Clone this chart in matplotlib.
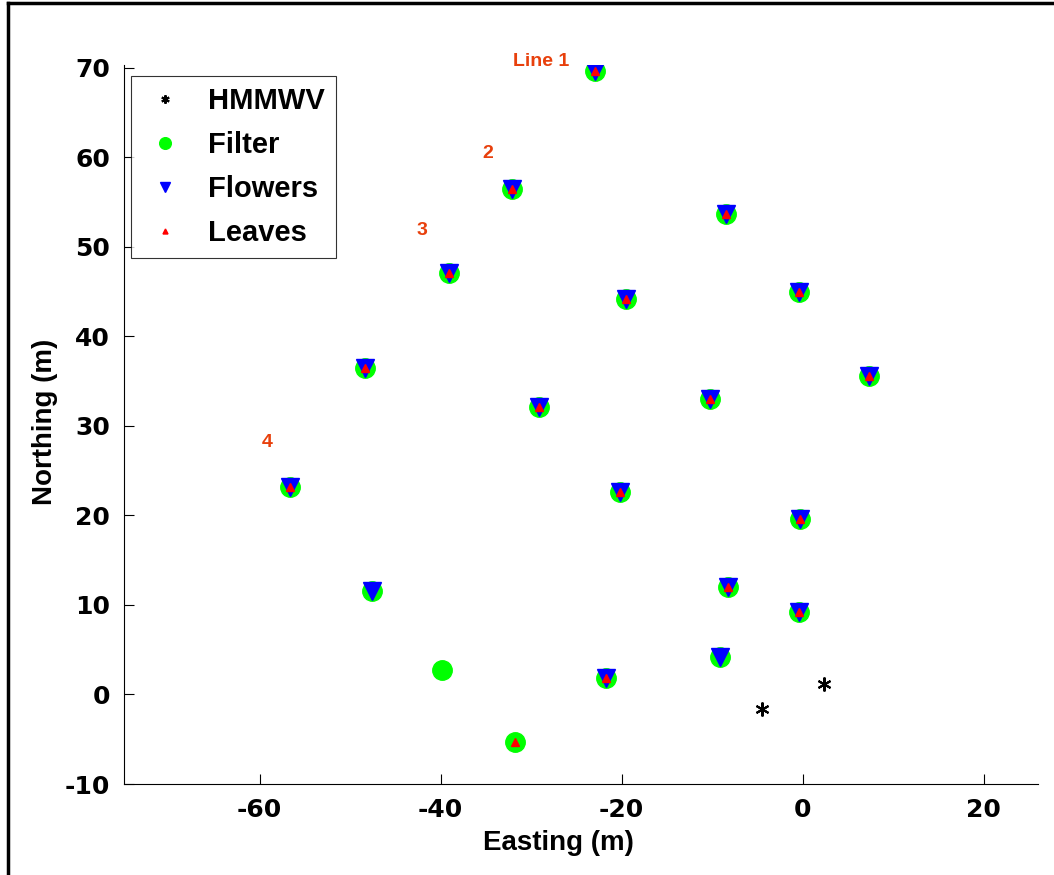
import numpy as np
import matplotlib
matplotlib.use("Agg")
import matplotlib.pyplot as plt
from matplotlib.lines import Line2D

plt.rcParams['font.family'] = ['Liberation Sans', 'DejaVu Sans']
plt.rcParams['axes.unicode_minus'] = False

# sample positions (m)
filter_e = [-22.9, -32.1, -8.5, -39.1, -19.5, -0.4, -48.4, -29.1, -10.2, 7.3,
            -56.7, -20.2, -0.3, -47.6, -8.3, -0.4, -9.1, -39.9, -21.7, -31.8]
filter_n = [69.6, 56.4, 53.7, 47.1, 44.2, 44.9, 36.5, 32.1, 33.0, 35.6,
            23.2, 22.6, 19.6, 11.6, 12.0, 9.2, 4.2, 2.7, 1.8, -5.3]

flowers_e = [-22.9, -32.1, -8.5, -39.1, -19.5, -0.4, -48.4, -29.1, -10.2, 7.3,
             -56.7, -20.2, -0.3, -47.6, -8.3, -0.4, -9.1, -21.7]
flowers_n = [69.6, 56.4, 53.7, 47.1, 44.2, 44.9, 36.5, 32.1, 33.0, 35.6,
             23.2, 22.6, 19.6, 11.6, 12.0, 9.2, 4.2, 1.8]

leaves_e = [-22.9, -32.1, -8.5, -39.1, -19.5, -0.4, -48.4, -29.1, -10.2, 7.3,
            -56.7, -20.2, -0.3, -8.3, -0.4, -21.7, -31.8]
leaves_n = [69.6, 56.4, 53.7, 47.1, 44.2, 44.9, 36.5, 32.1, 33.0, 35.6,
            23.2, 22.6, 19.6, 12.0, 9.2, 1.8, -5.3]

hmmwv_e = [-4.5, 2.4]
hmmwv_n = [-1.6, 1.2]

line_labels = ['Line 1', '2', '3', '4']
line_label_e = [-28.9, -34.8, -42.1, -59.2]
line_label_n = [70.7, 60.4, 51.8, 28.1]

fig = plt.figure(figsize=(10.54, 8.75), dpi=100)
ax = fig.add_axes([0.1176, 0.104, 0.8672, 0.8217])

asterisk = (6, 2, 0)
ax.plot(hmmwv_e, hmmwv_n, ls='none', marker=asterisk, color='k', ms=10, mew=1.5, label='HMMWV')
ax.plot(filter_e, filter_n, ls='none', marker='o', color='#00ff00', mec='#00ff00', ms=14, label='Filter')
ax.plot(flowers_e, flowers_n, ls='none', marker='v', color='#0000ff', mec='#0000ff', ms=12.5, label='Flowers')
ax.plot(leaves_e, leaves_n, ls='none', marker='^', color='#ff0000', mec='#ff0000', ms=6, label='Leaves')

for t, e, n in zip(line_labels, line_label_e, line_label_n):
    ax.text(e, n, t, color='#e8400c', fontsize=14, fontweight='bold',
            ha='center', va='center')

ax.set_xlim(-75, 26)
ax.set_ylim(-10, 70.3)
ax.set_xticks([-60, -40, -20, 0, 20])
ax.set_yticks(np.arange(-10, 71, 10))
ax.tick_params(direction='in', length=7, width=0.8, pad=10)
for lab in ax.get_xticklabels() + ax.get_yticklabels():
    lab.set_fontweight('bold')
    lab.set_fontfamily(['DejaVu Sans'])
    lab.set_fontsize(18)
ax.spines['top'].set_visible(False)
ax.spines['right'].set_visible(False)
for s in ['left', 'bottom']:
    ax.spines[s].set_linewidth(0.8)

ax.set_xlabel('Easting (m)', fontsize=20, fontweight='bold')
ax.set_ylabel('Northing (m)', fontsize=20, fontweight='bold')
ax.xaxis.set_label_coords(0.475, -0.064)
ax.yaxis.set_label_coords(-0.072, 0.503)

leg = ax.legend(loc='upper left', bbox_to_anchor=(0.0077, 0.985), borderaxespad=0,
                prop={'family': 'Liberation Sans', 'weight': 'bold', 'size': 21},
                frameon=True, fancybox=False, edgecolor='k', handletextpad=0.65,
                borderpad=0.38, labelspacing=0.55, handlelength=1.6, markerscale=0.6)
leg.get_frame().set_linewidth(0.8)

# figure frame (left and top edges visible)
fig.add_artist(Line2D([8 / 1054, 8 / 1054], [0, 1 - 3 / 875], color='k', lw=2.5))
fig.add_artist(Line2D([8 / 1054, 1], [1 - 3 / 875, 1 - 3 / 875], color='k', lw=2.5))

fig.savefig('out.png', dpi=100)
